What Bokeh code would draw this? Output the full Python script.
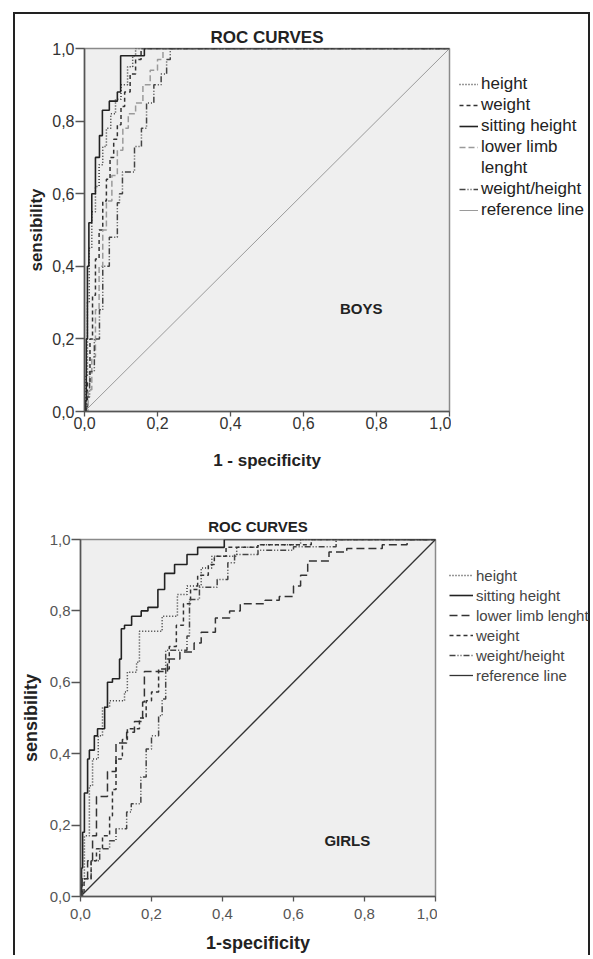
from bokeh.plotting import figure
from bokeh.models import FixedTicker, Legend, LegendItem, Label, Range1d
from bokeh.layouts import column, row
from bokeh.embed import file_html
from bokeh.resources import INLINE

FONT = "Liberation Sans"
NAN = float("nan")
TICKS = [0.0, 0.2, 0.4, 0.6, 0.8, 1.0]
TICK_LABELS = ["0,0", "0,2", "0,4", "0,6", "0,8", "1,0"]
REF_X = [0.0, 1.0]
REF_Y = [0.0, 1.0]

# ---------------- BOYS (1 - specificity, sensibility) ----------------
boys_height_x = [0, 0.004, 0.008, 0.013, 0.02, 0.03, 0.04, 0.05, 0.06, 0.072, 0.085, 0.1, 0.118, 0.132, 0.14, 1.0]
boys_height_y = [0, 0.10, 0.30, 0.45, 0.55, 0.62, 0.68, 0.73, 0.78, 0.82, 0.86, 0.90, 0.95, 0.98, 1.0, 1.0]

boys_weight_x = [0, 0.008, 0.015, 0.022, 0.03, 0.04, 0.05, 0.06, 0.07, 0.08, 0.09, 0.1, 0.11, 0.125, 0.14, 0.155, 1.0]
boys_weight_y = [0, 0.08, 0.20, 0.32, 0.42, 0.50, 0.58, 0.64, 0.70, 0.75, 0.79, 0.84, 0.88, 0.93, 0.97, 1.0, 1.0]

boys_sitting_x = [0, 0.003, 0.005, 0.008, 0.012, 0.02, 0.03, 0.041, 0.049, 0.068, 0.09, 0.099, 0.164, 1.0]
boys_sitting_y = [0, 0.03, 0.20, 0.40, 0.52, 0.60, 0.70, 0.76, 0.83, 0.855, 0.88, 0.98, 1.0, 1.0]

boys_limb_x = [0, 0.01, 0.02, 0.03, 0.04, 0.05, 0.06, 0.075, 0.09, 0.105, 0.12, 0.14, 0.16, 0.18, 0.2, 0.215, 1.0]
boys_limb_y = [0, 0.06, 0.15, 0.28, 0.40, 0.50, 0.58, 0.65, 0.72, 0.78, 0.82, 0.85, 0.90, 0.94, 0.97, 1.0, 1.0]

boys_wh_x = [0, 0.005, 0.014, 0.027, 0.041, 0.05, 0.068, 0.09, 0.096, 0.104, 0.137, 0.156, 0.17, 0.19, 0.21, 0.225, 0.235, 1.0]
boys_wh_y = [0, 0.04, 0.11, 0.20, 0.28, 0.40, 0.48, 0.575, 0.60, 0.66, 0.73, 0.78, 0.85, 0.90, 0.93, 0.97, 1.0, 1.0]

# ---------------- GIRLS ----------------
girls_height_x = [0, 0.002, 0.011, 0.025, 0.034, 0.05, 0.062, 0.082, 0.124, 0.132, 0.158, 0.166, 0.23, 0.273, 0.3, 0.34, 0.37, 0.44, 0.5, 0.62, 1.0]
girls_height_y = [0, 0.04, 0.17, 0.31, 0.385, 0.45, 0.53, 0.548, 0.573, 0.628, 0.656, 0.743, 0.785, 0.846, 0.87, 0.92, 0.953, 0.978, 0.985, 1.0, 1.0]

girls_sitting_x = [0, 0.003, 0.006, 0.011, 0.02, 0.025, 0.039, 0.048, 0.068, 0.076, 0.09, 0.11, 0.115, 0.124, 0.144, 0.171, 0.19, 0.218, 0.237, 0.265, 0.3, 0.33, 0.405, 1.0]
girls_sitting_y = [0, 0.08, 0.18, 0.29, 0.385, 0.41, 0.45, 0.47, 0.53, 0.60, 0.61, 0.665, 0.75, 0.76, 0.785, 0.80, 0.81, 0.86, 0.905, 0.93, 0.958, 0.978, 1.0, 1.0]

girls_limb_x = [0, 0.005, 0.02, 0.034, 0.045, 0.076, 0.1, 0.13, 0.152, 0.175, 0.18, 0.245, 0.28, 0.32, 0.34, 0.38, 0.42, 0.45, 0.52, 0.56, 0.6, 0.62, 0.64, 0.7, 0.75, 0.85, 0.92, 1.0]
girls_limb_y = [0, 0.05, 0.10, 0.17, 0.28, 0.35, 0.43, 0.46, 0.49, 0.545, 0.63, 0.665, 0.685, 0.71, 0.74, 0.78, 0.80, 0.82, 0.83, 0.84, 0.87, 0.90, 0.94, 0.965, 0.975, 0.985, 1.0, 1.0]

girls_weight_x = [0, 0.01, 0.03, 0.045, 0.062, 0.082, 0.09, 0.1, 0.115, 0.118, 0.132, 0.166, 0.185, 0.2, 0.22, 0.25, 0.27, 0.29, 0.31, 0.33, 0.36, 0.377, 0.41, 0.5, 0.65, 1.0]
girls_weight_y = [0, 0.05, 0.10, 0.134, 0.17, 0.226, 0.30, 0.385, 0.394, 0.44, 0.47, 0.50, 0.548, 0.573, 0.637, 0.70, 0.76, 0.82, 0.86, 0.90, 0.93, 0.953, 0.978, 0.985, 1.0, 1.0]

girls_wh_x = [0, 0.005, 0.03, 0.054, 0.082, 0.1, 0.13, 0.143, 0.17, 0.185, 0.2, 0.22, 0.23, 0.24, 0.3, 0.307, 0.335, 0.385, 0.415, 0.434, 0.5, 0.6, 0.72, 1.0]
girls_wh_y = [0, 0.05, 0.10, 0.134, 0.156, 0.19, 0.237, 0.26, 0.335, 0.413, 0.45, 0.506, 0.553, 0.69, 0.73, 0.832, 0.866, 0.888, 0.935, 0.958, 0.97, 0.98, 1.0, 1.0]

DARK = "#333333"
TOP_STYLES = [
    ("height", dict(line_color=DARK, line_width=1.5, line_dash="1 2")),
    ("weight", dict(line_color=DARK, line_width=1.5, line_dash="4 3")),
    ("sitting height", dict(line_color="#222222", line_width=1.6)),
    ("lower limb", dict(line_color="#9a9a9a", line_width=1.5, line_dash="6 3")),
    ("lenght", dict(line_alpha=0)),
    ("weight/height", dict(line_color="#444444", line_width=1.5, line_dash="6 2 1 2 1 2")),
    ("reference line", dict(line_color="#9a9a9a", line_width=1)),
]
BOTTOM_STYLES = [
    ("height", dict(line_color=DARK, line_width=1.5, line_dash="1 2")),
    ("sitting height", dict(line_color="#222222", line_width=1.6)),
    ("lower limb lenght", dict(line_color=DARK, line_width=1.5, line_dash="8 4")),
    ("weight", dict(line_color=DARK, line_width=1.5, line_dash="4 3")),
    ("weight/height", dict(line_color="#444444", line_width=1.5, line_dash="6 2 1 2 1 2")),
    ("reference line", dict(line_color="#333333", line_width=1.3)),
]


def make_fig(width, height, ml, mr, mt, mb, title_size, title_standoff,
             tick_size, tick_color, label_size, x_label, x_tick_standoff,
             x_label_standoff, y_label_standoff):
    p = figure(width=width, height=height, x_range=Range1d(0, 1), y_range=Range1d(0, 1),
               output_backend="svg", toolbar_location=None,
               min_border_left=ml, min_border_right=mr,
               min_border_top=mt, min_border_bottom=mb)
    p.background_fill_color = "#efefef"
    p.border_fill_alpha = 0
    p.grid.visible = False
    p.outline_line_color = "#8a8a8a"
    p.outline_line_width = 1.5
    p.title.text = "ROC CURVES"
    p.title.align = "center"
    p.title.text_font = FONT
    p.title.text_font_style = "bold"
    p.title.text_font_size = title_size
    p.title.text_color = "#222222"
    p.title.standoff = title_standoff
    for ax in (p.xaxis[0], p.yaxis[0]):
        ax.ticker = FixedTicker(ticks=TICKS)
        ax.major_label_overrides = dict(zip(TICKS, TICK_LABELS))
        ax.minor_tick_line_color = None
        ax.major_tick_in = 0
        ax.axis_line_color = "#555555"
        ax.axis_line_width = 1.5
        ax.major_tick_line_color = "#555555"
        ax.major_tick_line_width = 1.3
        ax.major_label_text_font = FONT
        ax.major_label_text_font_size = tick_size
        ax.major_label_text_color = tick_color
        ax.axis_label_text_font = FONT
        ax.axis_label_text_font_style = "bold"
        ax.axis_label_text_font_size = label_size
        ax.axis_label_text_color = "#222222"
    p.xaxis[0].major_tick_out = 5
    p.xaxis[0].major_label_standoff = x_tick_standoff
    p.xaxis[0].axis_label = x_label
    p.xaxis[0].axis_label_standoff = x_label_standoff
    p.yaxis[0].major_tick_out = 9
    p.yaxis[0].major_label_standoff = 1
    p.yaxis[0].axis_label = "sensibility"
    p.yaxis[0].axis_label_standoff = y_label_standoff
    return p


def make_legend_fig(width, height, styles, loc, label_height, glyph_width, font_size, color):
    lf = figure(width=width, height=height, x_range=Range1d(0, 1), y_range=Range1d(0, 1),
                output_backend="svg", toolbar_location=None, min_border=0,
                x_axis_type=None, y_axis_type=None)
    lf.title.visible = False
    lf.outline_line_color = None
    lf.background_fill_alpha = 0
    lf.border_fill_alpha = 0
    items = []
    for name, st in styles:
        # placeholder renderer (no visible data) that only carries the line style
        r = lf.line(x=[NAN], y=[NAN], **st)
        items.append(LegendItem(label=name, renderers=[r]))
    leg = Legend(items=items, location=loc, margin=0, padding=0, spacing=0,
                 label_height=label_height, glyph_height=12, glyph_width=glyph_width,
                 label_standoff=3, label_text_font=FONT, label_text_font_size=font_size,
                 label_text_color=color, background_fill_alpha=0, border_line_alpha=0)
    lf.add_layout(leg)
    return lf


# ---------------- top panel ----------------
p1 = make_fig(451, 478, 84, 2, 48, 67, "17px", 4, "16px", "#333333", "17px",
              "1 - specificity", 0, 19, 3)
ts = dict(TOP_STYLES)
p1.line(REF_X, REF_Y, **ts["reference line"])
p1.step(boys_height_x, boys_height_y, mode="after", **ts["height"])
p1.step(boys_weight_x, boys_weight_y, mode="after", **ts["weight"])
p1.step(boys_limb_x, boys_limb_y, mode="after", **ts["lower limb"])
p1.step(boys_wh_x, boys_wh_y, mode="after", **ts["weight/height"])
p1.step(boys_sitting_x, boys_sitting_y, mode="after", **ts["sitting height"])
p1.add_layout(Label(x=0.70, y=0.285, text="BOYS", text_font=FONT, text_font_style="bold",
                    text_font_size="15px", text_color="#222222",
                    text_baseline="middle", text_align="left"))
l1 = make_legend_fig(139, 478, TOP_STYLES, (8, 191), 21, 19, "17px", "#222222")

# ---------------- bottom panel ----------------
p2 = make_fig(437, 477, 80, 2, 61, 58, "15px", 10, "15px", "#555555", "18px",
              "1-specificity", 7, 11, 6)
bs = dict(BOTTOM_STYLES)
p2.line(REF_X, REF_Y, **bs["reference line"])
p2.step(girls_height_x, girls_height_y, mode="after", **bs["height"])
p2.step(girls_sitting_x, girls_sitting_y, mode="after", **bs["sitting height"])
p2.step(girls_limb_x, girls_limb_y, mode="after", **bs["lower limb lenght"])
p2.step(girls_weight_x, girls_weight_y, mode="after", **bs["weight"])
p2.step(girls_wh_x, girls_wh_y, mode="after", **bs["weight/height"])
p2.add_layout(Label(x=0.687, y=0.156, text="GIRLS", text_font=FONT, text_font_style="bold",
                    text_font_size="15px", text_color="#222222",
                    text_baseline="middle", text_align="left"))
l2 = make_legend_fig(153, 477, BOTTOM_STYLES, (12, 211), 20, 24, "15px", "#444444")

layout = column(row(p1, l1), row(p2, l2),
                styles={"background": "white",
                        "box-shadow": ("inset 13px 0 0 0 white, inset 0 12px 0 0 white, "
                                       "inset 15px 0 0 0 #222222, inset 0 14px 0 0 #222222, "
                                       "inset -2px 0 0 0 #222222")})

open("out.html", "w").write(file_html(layout, INLINE))
